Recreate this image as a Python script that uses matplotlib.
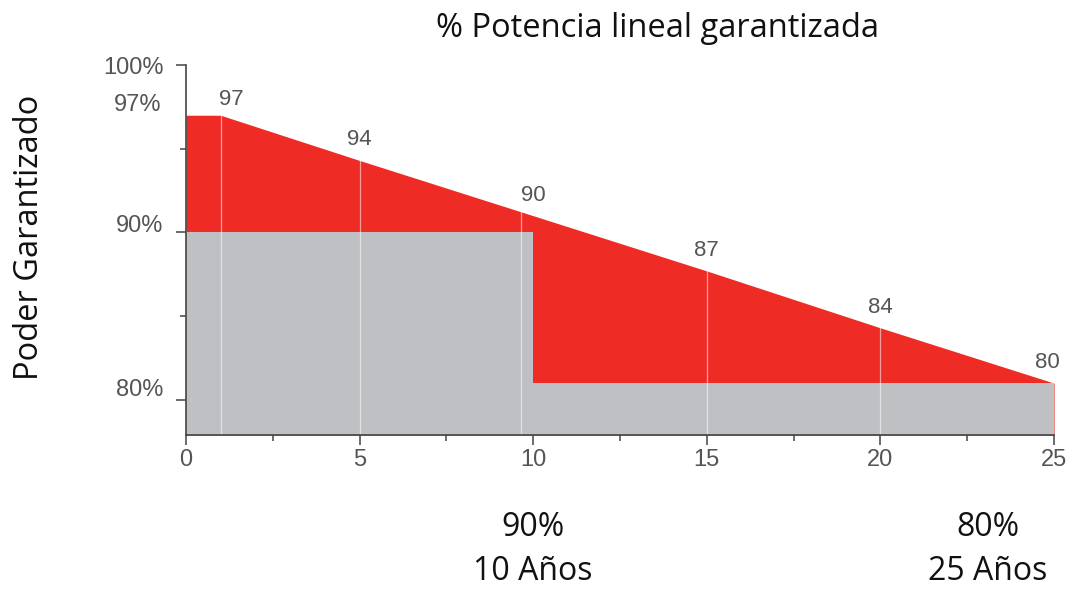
import matplotlib
matplotlib.use("Agg")
import matplotlib.pyplot as plt
from matplotlib.ticker import MultipleLocator
from matplotlib.transforms import ScaledTranslation

# data
years = [0, 1, 5, 10, 15, 20, 25]
power_line = [97, 97, 94.3, 91, 87.7, 84.3, 81]      # top of red area (drawn position)
label_years = [1, 5, 10, 15, 20, 25]
label_values = [97, 94, 90, 87, 84, 80]             # numbers printed above the line
step_years = [0, 10, 10, 25]
step_values = [90, 90, 81, 81]                       # top of grey area
grid_years = [1, 5, 10, 15, 20]
ytick_values = [100, 90, 80]
ytick_labels = ["100%", "90%", "80%"]
note_x = [10, 23.1]
note_top = ["90%", "80%"]
note_bottom = ["10 Años", "25 Años"]

RED = "#ee2b25"
GREY = "#bfc0c3"
TXT = "#555555"
FONT = "Open Sans"
TICKFONT = "Liberation Sans"

fig = plt.figure(figsize=(10.78, 5.90), dpi=100)
ax = fig.add_axes([0.1725, 0.2627, 0.8053, 0.6271])

ymin = 77.9
ax.fill_between(years, power_line, ymin, color=RED, lw=0)
ax.fill_between(step_years, step_values, ymin, color=GREY, lw=0)

# faint white guide lines
for x in grid_years:
    xx = x - 0.35 if x == 10 else x
    ax.axvline(xx, color="white", lw=0.9, alpha=0.55)

for x, v in zip(label_years, label_values):
    yy = power_line[years.index(x)]
    dx = 0.3 if x == 1 else (-0.2 if x == 25 else 0)
    dy = 0.3 if x == 1 else 0.6
    ax.text(x + dx, yy + dy, str(v), ha="center", va="bottom", fontsize=16,
            color=TXT, family=TICKFONT)

ax.set_xlim(0, 25)
ax.set_ylim(ymin, 100)
for s in ["top", "right"]:
    ax.spines[s].set_visible(False)
for s in ["left", "bottom"]:
    ax.spines[s].set_color("#444444")
    ax.spines[s].set_linewidth(1.2)

ax.xaxis.set_major_locator(MultipleLocator(5))
ax.xaxis.set_minor_locator(MultipleLocator(2.5))
ax.set_yticks(ytick_values)
ax.set_yticks([95, 85], minor=True)
ax.set_yticklabels(ytick_labels)
ax.tick_params(axis="both", which="both", color="#444444", width=1.1, labelcolor=TXT,
               labelsize=17)
ax.tick_params(axis="both", which="major", length=7)
ax.tick_params(axis="both", which="minor", length=4)
ax.tick_params(axis="y", pad=9)
ax.tick_params(axis="x", pad=3)
for lab in ax.get_xticklabels() + ax.get_yticklabels():
    lab.set_family(TICKFONT)
# the 90% and 80% labels sit a little above their ticks
for lab, up in zip(ax.get_yticklabels(), [0, 9, 12]):
    lab.set_transform(lab.get_transform() + ScaledTranslation(0, up / 100, fig.dpi_scale_trans))
ax.text(-0.72, 97.6, "97%", ha="right", va="center", fontsize=17, color=TXT,
        family=TICKFONT)

fig.text(0.61, 0.952, "% Potencia lineal garantizada", ha="center", va="center",
         fontsize=23.5, family=FONT, color="#111111")
fig.text(0.027, 0.597, "Poder Garantizado", rotation=90, ha="center", va="center",
         fontsize=23.5, family=FONT, color="#111111")
for x, a, b in zip(note_x, note_top, note_bottom):
    ax.text(x, -0.25, a, transform=ax.get_xaxis_transform(), ha="center", va="center",
            fontsize=23, family=FONT, color="#111111")
    ax.text(x, -0.37, b, transform=ax.get_xaxis_transform(), ha="center", va="center",
            fontsize=23, family=FONT, color="#111111")

fig.savefig("out.png", dpi=100)
